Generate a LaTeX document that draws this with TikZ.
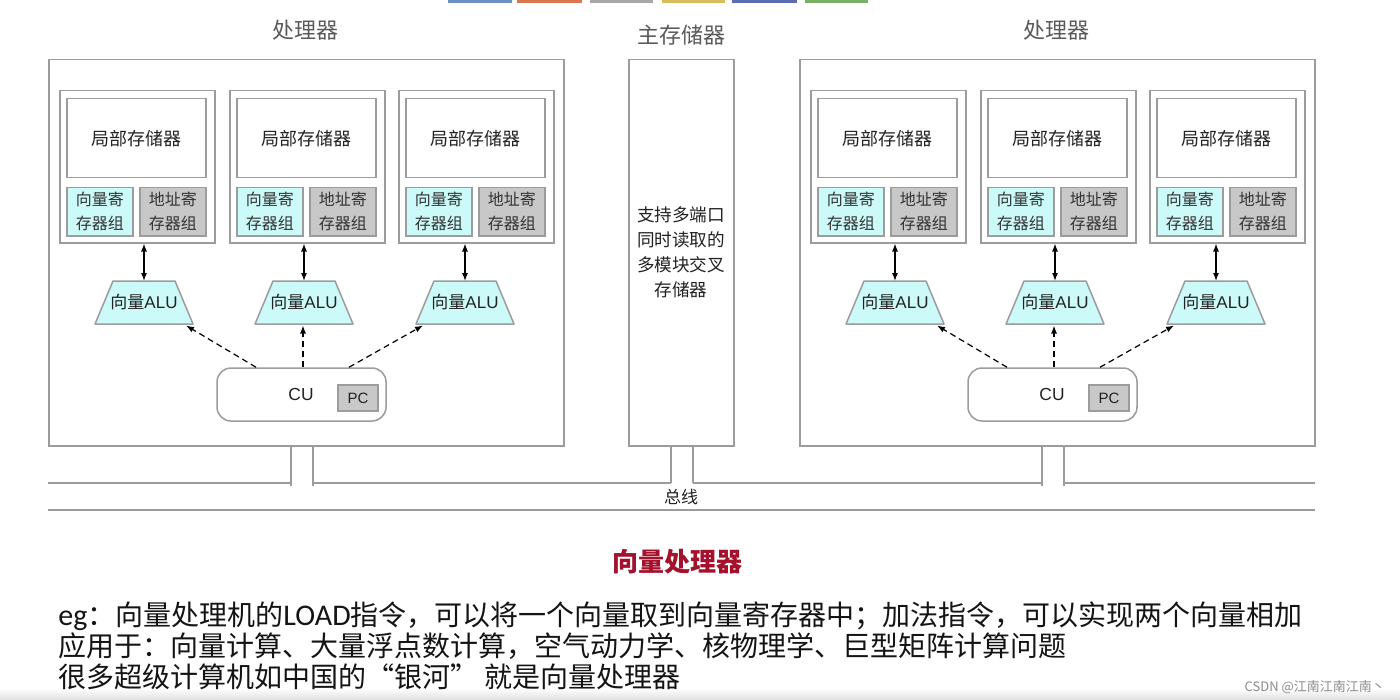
\documentclass[tikz,border=0pt]{standalone}
\usepackage{fontspec}
\setmainfont{Liberation Sans}
\newfontfamily\cjk{Noto Sans CJK SC}
\newfontfamily\carl{Carlito}
\usetikzlibrary{shapes.geometric,arrows.meta,calc}
\definecolor{lgray}{HTML}{9C9C9C}
\definecolor{vcyan}{HTML}{CCFAF8}
\definecolor{agray}{HTML}{C8C8C8}
\definecolor{tgray}{HTML}{5A5A5A}
\definecolor{dtext}{HTML}{222222}
\definecolor{redt}{HTML}{A3112C}
\definecolor{wm}{HTML}{8C8C8C}
\definecolor{b1}{HTML}{6A8FC0}
\definecolor{b2}{HTML}{D9774F}
\definecolor{b3}{HTML}{A8A8A8}
\definecolor{b4}{HTML}{D8BE5A}
\definecolor{b5}{HTML}{5C6DB3}
\definecolor{b6}{HTML}{79B064}
\begin{document}
\begin{tikzpicture}[x=0.5pt,y=-0.5pt,
  gline/.style={draw=lgray, line width=0.75pt},
  boxn/.style={gline, rectangle, inner sep=0pt, anchor=north west, text=dtext},
  title/.style={text=tgray, font=\cjk\fontsize{11}{13}\selectfont},
  lbl/.style={font=\cjk\fontsize{9}{12}\selectfont},
  reg/.style={boxn, minimum width=33pt, minimum height=24pt, align=center, font=\cjk\fontsize{8}{12}\selectfont, text=black!80},
  alushape/.style={draw=lgray, line width=0.75pt, fill=vcyan, line join=round},
  alutext/.style={inner sep=0pt, font=\fontsize{8.5}{10}\selectfont, text=dtext},
  dbl/.style={{Latex[length=4pt,width=3pt]}-{Latex[length=4pt,width=3pt]}, line width=0.6pt, black},
  dsh/.style={-{Latex[length=4pt,width=3pt]}, line width=0.6pt, black, dash pattern=on 3pt off 2pt},
  btxt/.style={anchor=base west, text=black!92, inner sep=0pt, font=\fontsize{14}{16}\selectfont}
]
\useasboundingbox (0,0) rectangle (1400,700);
\fill[white] (0,0) rectangle (1400,700);
\shade[top color=white, bottom color=black!12] (0,688) rectangle (1400,700);
% top colour bars
\foreach \c/\a/\b in {b1/448/512,b2/517/582,b3/590/653,b4/662/725,b5/732/797,b6/805/868}{
  \fill[\c] (\a,0) rectangle (\b,3.5);
}
% processors
\foreach \p/\ox in {L/0,R/751}{
  \node[boxn, minimum width=257.5pt, minimum height=193pt] (\p proc) at ({\ox+48},59) {};
  \node[title] (\p title) at ({\ox+305},30) {处理器};
  \foreach \u/\ux/\ax/\tx in {1/59/144/42,2/229/304/-1,3/398/465/-42}{
    \node[boxn, minimum width=77.5pt, minimum height=76pt] (\p unit\u) at ({\ox+\ux},90) {};
    \node[boxn, minimum width=69.5pt, minimum height=39.5pt, lbl] (\p mem\u) at ({\ox+\ux+7},98) {局部存储器};
    \node[reg, fill=vcyan] (\p vr\u) at ({\ox+\ux+7},187) {向量寄\\存器组};
    \node[reg, fill=agray] (\p ar\u) at ({\ox+\ux+80},187) {地址寄\\存器组};
    \filldraw[alushape] ({\ox+\ax-31},281) -- ({\ox+\ax+31},281) -- ({\ox+\ax+49},324) -- ({\ox+\ax-49},324) -- cycle;
    \node[alutext] (\p alu\u) at ({\ox+\ax},302.5) {{\cjk 向量}ALU};
    \coordinate (\p alutop\u) at ({\ox+\ax},281);
    \coordinate (\p alutip\u) at ({\ox+\ax+\tx},325.5);
    \draw[dbl] (\p alutop\u) -- (\p alutop\u |- \p unit\u.south);
  }
  \node[gline, rectangle, rounded corners=7pt, minimum width=84.5pt, minimum height=26.5pt, inner sep=0pt] (\p cu) at ({\ox+301.5},394.5) {};
  \node[font=\fontsize{8.7}{10}\selectfont, text=dtext] (\p cut) at ({\ox+301},395) {CU};
  \node[gline, fill=agray, rectangle, minimum width=20pt, minimum height=13pt, inner sep=0pt, font=\fontsize{7.5}{9}\selectfont, text=dtext] (\p pc) at ({\ox+358},398) {PC};
  \draw[dsh] ([xshift=-22.75pt]\p cu.north) -- (\p alutip1);
  \draw[dsh] ([xshift=0.75pt]\p cu.north) -- (\p alutip2);
  \draw[dsh] ([xshift=23.75pt]\p cu.north) -- (\p alutip3);
}
% main memory
\node[title] (mtitle) at (681,35) {主存储器};
\node[boxn, minimum width=52.5pt, minimum height=193pt] (mem) at (628,59) {};
\node[align=center, font=\cjk\fontsize{8.8}{12.5}\selectfont, text=dtext] (memt) at (681,252.5) {支持多端口\\同时读取的\\多模块交叉\\存储器};
% bus
\foreach \n/\x in {L1/291,L2/313,M1/671,M2/693,R1/1042,R2/1064}{
  \coordinate (\n t) at (\x,447);
  \coordinate (\n b) at (\x,486);
  \coordinate (\n h) at (\x,483);
}
\coordinate (busA) at (48,483);
\coordinate (busB) at (1315,483);
\coordinate (busC) at (48,510);
\coordinate (busD) at (1315,510);
\foreach \n in {L1,L2,R1,R2}{ \draw[gline] (\n t) -- (\n b); }
\foreach \n in {M1,M2}{ \draw[gline] (\n t) -- (\n h); }
\draw[gline] (busA) -- (L1h);
\draw[gline] (L2h) -- (M1h);
\draw[gline] (M2h) -- (R1h);
\draw[gline] (R2h) -- (busB);
\draw[gline] (busC) -- (busD);
\node[font=\cjk\fontsize{8.5}{10}\selectfont, text=dtext] (bust) at (681,497) {总线};
% caption
\node[font=\cjk\bfseries\fontsize{13}{15}\selectfont, text=redt] (cap) at (677,562) {向量处理器};
\node[btxt] (t1) at (58,625.5) {{\carl\fontsize{15}{16}\selectfont eg}{\cjk ：向量处理机的}{\carl\fontsize{15}{16}\selectfont LOAD}{\cjk 指令，可以将一个向量取到向量寄存器中；加法指令，可以实现两个向量相加}};
\node[btxt] (t2) at (58,656.5) {\cjk 应用于：向量计算、大量浮点数计算，空气动力学、核物理学、巨型矩阵计算问题};
\node[btxt] (t3) at (58,687.5) {\cjk 很多超级计算机如中国的“银河” 就是向量处理器};
\node[anchor=east, font=\cjk\fontsize{6.5}{8}\selectfont, text=wm] (wmk) at (1392,687) {CSDN @江南江南江南丶};
\end{tikzpicture}
\end{document}
